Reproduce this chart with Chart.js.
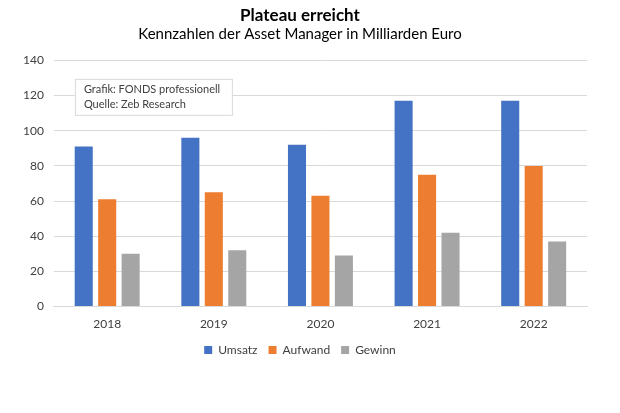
<!DOCTYPE html>
<html><head><meta charset="utf-8">
<script src="https://cdn.jsdelivr.net/npm/chart.js@4/dist/chart.umd.min.js"></script>
<style>html,body{margin:0;padding:0;background:#fff}#w{width:620px;height:413px}</style>
</head><body><div id="w"><canvas id="c"></canvas></div>
<script>
const years = ["2018","2019","2020","2021","2022"];
const umsatz = [91, 96, 92, 117, 117];
const aufwand = [61, 65, 63, 75, 80];
const gewinn = [30, 32, 29, 42, 37];
const yTicks = [0,20,40,60,80,100,120,140];
const noteLines = ["Grafik: FONDS professionell", "Quelle: Zeb Research"];
const FONT = "Lato, 'Open Sans', sans-serif";

const notePlugin = {
  id: 'note',
  afterDraw(chart) {
    const {ctx, scales:{x,y}} = chart;
    const left = x.left + 21, top = y.getPixelForValue(129.5);
    const w = 157, h = 36;
    ctx.save();
    ctx.fillStyle = '#fff';
    ctx.fillRect(left, top, w, h);
    ctx.strokeStyle = '#d9d9d9';
    ctx.lineWidth = 1;
    ctx.strokeRect(left+0.5, top+0.5, w, h);
    ctx.fillStyle = '#404040';
    ctx.font = "11px " + FONT;
    ctx.textBaseline = 'middle';
    noteLines.forEach((t,i)=>ctx.fillText(t, left+9, top+11+i*15));
    ctx.restore();
  }
};

new Chart(document.getElementById('c'), {
  type: 'bar',
  data: {
    labels: years,
    datasets: [
      {label:'Umsatz', data: umsatz, backgroundColor:'#4472c4'},
      {label:'Aufwand', data: aufwand, backgroundColor:'#ed7d31'},
      {label:'Gewinn', data: gewinn, backgroundColor:'#a5a5a5'}
    ]
  },
  options: {
    responsive: true, maintainAspectRatio: false, animation: false,
    layout: {padding: {left: 13, right: 33, top: 3, bottom: 47}},
    datasets: {bar: {categoryPercentage: 0.66, barPercentage: 0.77}},
    plugins: {
      title: {display: true, text: 'Plateau erreicht', color:'#000',
        font: {family: FONT, size: 17, weight: 'bold'}, padding: {top: 2, bottom: 0}},
      subtitle: {display: true, text: 'Kennzahlen der Asset Manager in Milliarden Euro', color:'#000',
        font: {family: FONT, size: 15}, padding: {top: 0, bottom: 17}},
      legend: {position: 'bottom', labels: {boxWidth: 8, boxHeight: 8, color:'#404040',
        font: {family: FONT, size: 12}, padding: 11}},
      tooltip: {enabled: false}
    },
    scales: {
      x: {grid: {display: false}, border: {color:'#d9d9d9'},
        ticks: {color:'#404040', font: {family: FONT, size: 12}, padding: 2}},
      y: {min: 0, max: 140, afterBuildTicks: ax => { ax.ticks = yTicks.map(v=>({value:v})); },
        grid: {color:'#d9d9d9', drawTicks: false}, border: {display: false},
        ticks: {color:'#404040', font: {family: FONT, size: 12}, padding: 10}}
    }
  },
  plugins: [notePlugin]
});
</script></body></html>
